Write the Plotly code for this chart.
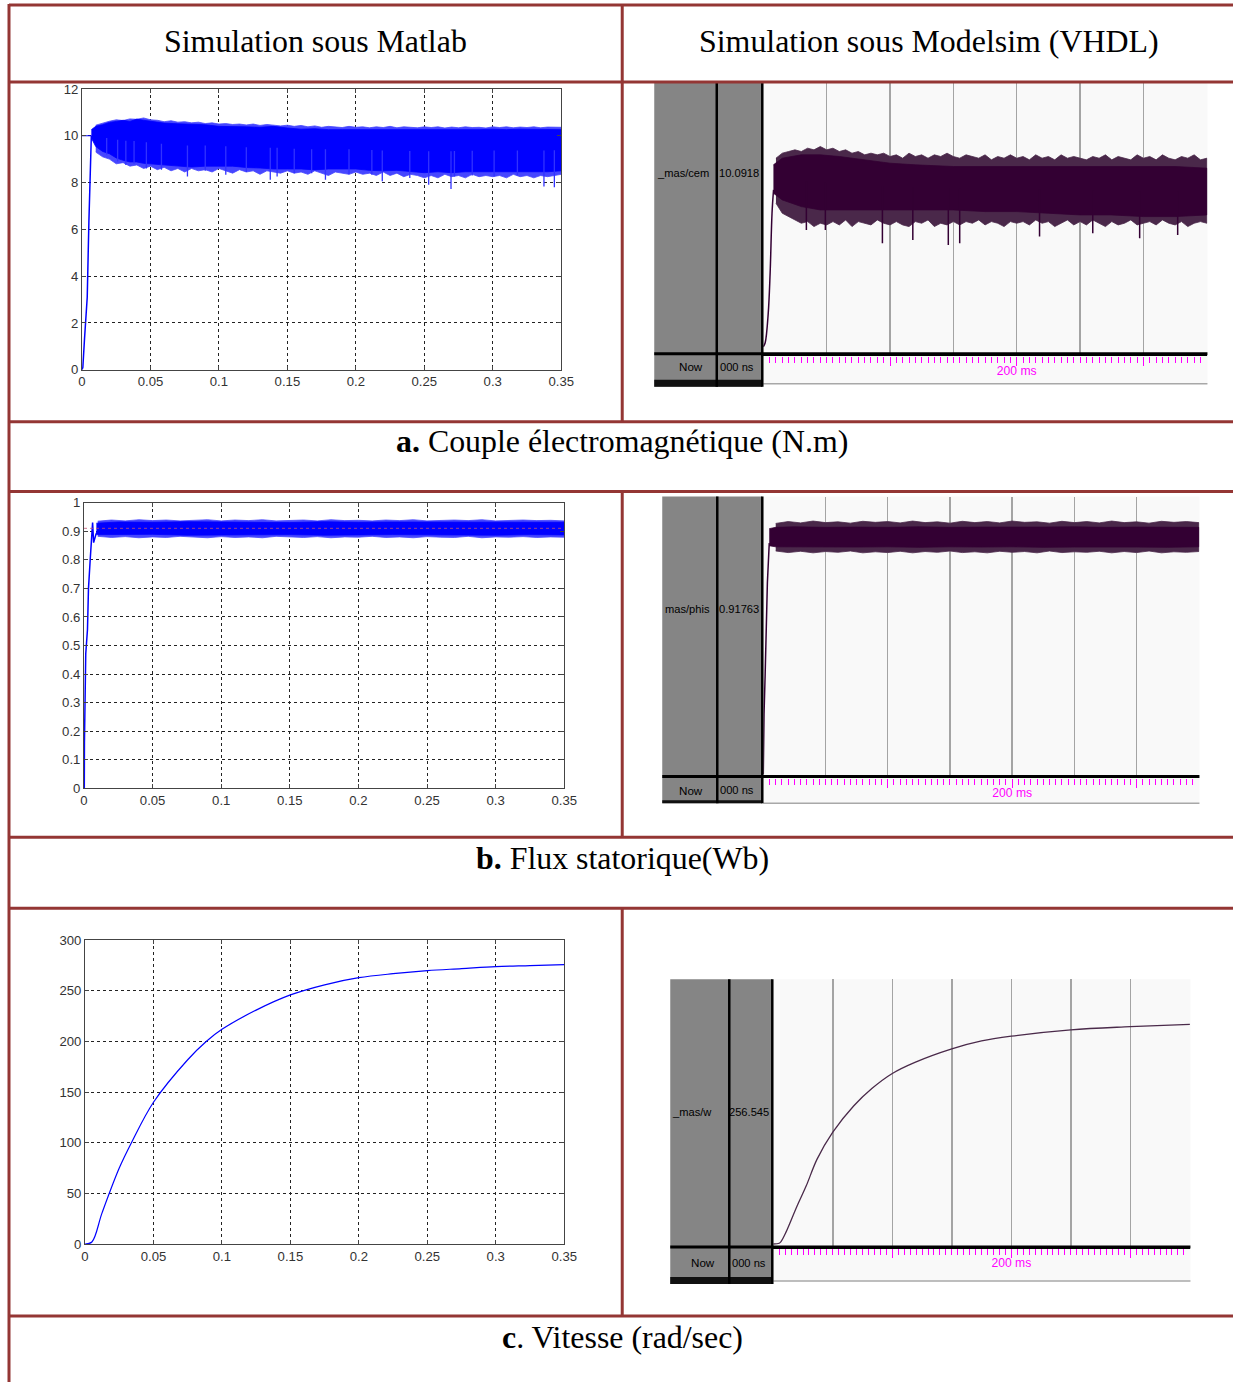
import numpy as np
import plotly.graph_objects as go

W, H = 1233, 1382          # target picture size
FIG_W, FIG_H = 1247, 1390  # figure canvas (slightly larger so the table rules reach the edges)

# ------------------------------------------------------------------ texts
headers = ["Simulation sous Matlab", "Simulation sous Modelsim (VHDL)"]
captions = ["<b>a.</b> Couple électromagnétique (N.m)",
            "<b>b.</b> Flux statorique(Wb)",
            "<b>c</b>. Vitesse (rad/sec)"]
ms_names = ["_mas/cem", "mas/phis", "_mas/w"]
ms_values = ["10.0918", "0.91763", "256.545"]
ms_now = "Now"
ms_now_val = "000 ns"

# ------------------------------------------------------------------ tick labels
ml_t_ticks = [0, 0.05, 0.1, 0.15, 0.2, 0.25, 0.3, 0.35]
ml_t_labels = ["0", "0.05", "0.1", "0.15", "0.2", "0.25", "0.3", "0.35"]
cem_ticks = [0, 2, 4, 6, 8, 10, 12]
phi_ticks = [0, 0.1, 0.2, 0.3, 0.4, 0.5, 0.6, 0.7, 0.8, 0.9, 1]
phi_labels = ["0", "0.1", "0.2", "0.3", "0.4", "0.5", "0.6", "0.7", "0.8", "0.9", "1"]
w_ticks = [0, 50, 100, 150, 200, 250, 300]
ms_grid_dt = 50
ms_major_ticks = [0, 100, 200, 300]
ms_major_labels = ["", "", "200 ms", ""]

# ------------------------------------------------------------------ Matlab (a) couple
cem_rise_t = [0, 0.0006, 0.0018, 0.0038, 0.0050, 0.0058, 0.0068]
cem_rise = [0, 0.1, 1.3, 3.1, 6.3, 8.3, 10.0]
cem_ref_t = [0, 0.0068]
cem_ref = [10, 10]
# solid core of the ripple band
cem_env_t = [0.0068, 0.01, 0.015, 0.02, 0.025, 0.03, 0.035, 0.04, 0.045, 0.05,
             0.06, 0.07, 0.08, 0.09, 0.10, 0.11, 0.12, 0.13, 0.14, 0.15,
             0.16, 0.17, 0.18, 0.19, 0.20, 0.21, 0.22, 0.23, 0.24, 0.25,
             0.26, 0.27, 0.28, 0.29, 0.30, 0.31, 0.32, 0.33, 0.34, 0.35]
cem_upper = [10.26, 10.40, 10.47, 10.57, 10.61, 10.66, 10.61, 10.71, 10.66, 10.61,
             10.54, 10.51, 10.50, 10.47, 10.40, 10.40, 10.38, 10.36, 10.40, 10.33,
             10.28, 10.30, 10.26, 10.26, 10.26, 10.26, 10.23, 10.26, 10.23, 10.26,
             10.23, 10.26, 10.26, 10.26, 10.28, 10.26, 10.28, 10.28, 10.28, 10.26]
cem_lower = [9.90, 9.54, 9.33, 9.23, 9.05, 8.95, 8.88, 8.88, 8.82, 8.78,
             8.75, 8.70, 8.66, 8.70, 8.70, 8.70, 8.64, 8.62, 8.58, 8.58,
             8.58, 8.54, 8.58, 8.58, 8.58, 8.52, 8.50, 8.52, 8.46, 8.42,
             8.46, 8.42, 8.46, 8.46, 8.46, 8.44, 8.46, 8.46, 8.46, 8.50]
# ragged fringe of the ripple band
cem_fr_t = [0.010, 0.015, 0.020, 0.025, 0.030, 0.035, 0.040, 0.045, 0.050,
            0.055, 0.060, 0.065, 0.070, 0.075, 0.080, 0.085, 0.090, 0.095, 0.100,
            0.105, 0.110, 0.115, 0.120, 0.125, 0.130, 0.135, 0.140, 0.145, 0.150,
            0.155, 0.160, 0.165, 0.170, 0.175, 0.180, 0.185, 0.190, 0.195, 0.200,
            0.205, 0.210, 0.215, 0.220, 0.225, 0.230, 0.235, 0.240, 0.245, 0.250,
            0.255, 0.260, 0.265, 0.270, 0.275, 0.280, 0.285, 0.290, 0.295, 0.300,
            0.305, 0.310, 0.315, 0.320, 0.325, 0.330, 0.335, 0.340, 0.345, 0.350]
cem_fr_up = [10.45, 10.55, 10.62, 10.68, 10.65, 10.72, 10.70, 10.76, 10.68,
             10.66, 10.60, 10.64, 10.58, 10.60, 10.55, 10.58, 10.52, 10.55, 10.50,
             10.52, 10.48, 10.50, 10.46, 10.50, 10.44, 10.48, 10.45, 10.42, 10.45,
             10.40, 10.44, 10.38, 10.42, 10.36, 10.40, 10.38, 10.35, 10.40, 10.36,
             10.38, 10.34, 10.38, 10.35, 10.40, 10.34, 10.38, 10.36, 10.34, 10.38,
             10.35, 10.38, 10.33, 10.37, 10.34, 10.38, 10.35, 10.36, 10.33, 10.38,
             10.35, 10.38, 10.34, 10.37, 10.35, 10.38, 10.34, 10.37, 10.35, 10.36]
cem_fr_lo = [9.30, 9.10, 9.00, 8.80, 8.85, 8.70, 8.75, 8.60, 8.70,
             8.55, 8.65, 8.50, 8.60, 8.45, 8.60, 8.50, 8.55, 8.45, 8.60,
             8.50, 8.40, 8.55, 8.45, 8.50, 8.35, 8.50, 8.45, 8.40, 8.50,
             8.40, 8.45, 8.35, 8.50, 8.40, 8.30, 8.45, 8.40, 8.35, 8.45,
             8.35, 8.40, 8.30, 8.45, 8.30, 8.40, 8.25, 8.35, 8.30, 8.20,
             8.30, 8.20, 8.35, 8.25, 8.30, 8.20, 8.35, 8.25, 8.30, 8.25,
             8.30, 8.20, 8.35, 8.25, 8.30, 8.20, 8.30, 8.25, 8.30, 8.35]
cem_dn_t = [0.018, 0.026, 0.032, 0.038, 0.047, 0.058, 0.077, 0.090, 0.105, 0.120,
            0.1375, 0.1425, 0.155, 0.1677, 0.1778, 0.195, 0.2117, 0.2193, 0.2394,
            0.2532, 0.2695, 0.272, 0.285, 0.301, 0.318, 0.3374, 0.345]
cem_dn = [9.2, 8.9, 8.75, 8.8, 8.6, 8.55, 8.26, 8.5, 8.33, 8.45,
          8.12, 8.26, 8.4, 8.4, 8.12, 8.35, 8.33, 8.05, 8.19,
          7.9, 7.72, 8.26, 8.3, 8.26, 8.3, 7.83, 7.8]

# ------------------------------------------------------------------ Matlab (b) flux
phi_rise_t = [0, 0.0002, 0.0003, 0.0006, 0.00125, 0.0025, 0.00325, 0.0045, 0.0055,
              0.00625, 0.007, 0.00875, 0.010]
phi_rise = [0, 0.0, 0.16, 0.30, 0.47, 0.555, 0.70, 0.80, 0.86, 0.93, 0.86, 0.89, 0.90]
phi_env_t = [0.009, 0.025, 0.05, 0.075, 0.1, 0.125, 0.15, 0.175, 0.2, 0.225,
             0.25, 0.275, 0.3, 0.325, 0.35]
phi_upper = [0.928, 0.932, 0.931, 0.933, 0.932, 0.931, 0.930, 0.933, 0.931, 0.932,
             0.932, 0.931, 0.933, 0.932, 0.931]
phi_lower = [0.888, 0.887, 0.889, 0.886, 0.888, 0.887, 0.888, 0.886, 0.887, 0.888,
             0.886, 0.887, 0.886, 0.888, 0.887]
phi_fr_t = [0.01, 0.02, 0.03, 0.04, 0.05, 0.06, 0.07, 0.08, 0.09, 0.10,
            0.11, 0.12, 0.13, 0.14, 0.15, 0.16, 0.17, 0.18, 0.19, 0.20,
            0.21, 0.22, 0.23, 0.24, 0.25, 0.26, 0.27, 0.28, 0.29, 0.30,
            0.31, 0.32, 0.33, 0.34, 0.35]
phi_fr_up = [0.935, 0.939, 0.936, 0.940, 0.937, 0.939, 0.936, 0.938, 0.940, 0.936,
             0.939, 0.937, 0.940, 0.936, 0.938, 0.939, 0.936, 0.940, 0.937, 0.938,
             0.936, 0.939, 0.937, 0.940, 0.936, 0.938, 0.939, 0.937, 0.940, 0.936,
             0.938, 0.939, 0.937, 0.938, 0.936]
phi_fr_lo = [0.882, 0.878, 0.881, 0.877, 0.880, 0.878, 0.882, 0.879, 0.877, 0.881,
             0.878, 0.880, 0.877, 0.882, 0.879, 0.878, 0.881, 0.877, 0.880, 0.879,
             0.882, 0.878, 0.880, 0.877, 0.881, 0.879, 0.878, 0.882, 0.877, 0.880,
             0.879, 0.881, 0.878, 0.880, 0.879]
phi_ref_t = [0, 0.35]
phi_ref = [0.91, 0.91]

# ------------------------------------------------------------------ Matlab (c) vitesse
vit_t = [0, 0.005, 0.0125, 0.025, 0.0339, 0.05, 0.075, 0.0885, 0.1, 0.125,
         0.15, 0.175, 0.2, 0.225, 0.25, 0.275, 0.3, 0.325, 0.35]
vit = [0, 2, 31, 75, 100, 140, 182, 200, 212, 231,
       246, 256, 263, 267, 270, 272, 274, 275, 276]

# ------------------------------------------------------------------ Modelsim (a) cem  (t in ms)
ms_cem_rise_t = [0, 1.5, 3.9, 5.4, 6.9, 8.1]
ms_cem_rise = [0, 0.24, 2.0, 4.4, 8.0, 9.4]
ms_cem_env_t = [8, 15, 30, 45, 60, 80, 100, 120, 150, 175, 200, 225, 250, 275, 300, 325, 350]
ms_cem_upper = [10.9, 11.3, 11.5, 11.5, 11.4, 11.2, 11.0, 10.9, 10.8, 10.8, 10.8, 10.8, 10.8, 10.8, 10.8, 10.8, 10.7]
ms_cem_lower = [9.2, 8.8, 8.4, 8.2, 8.2, 8.2, 8.2, 8.2, 8.2, 8.1, 8.1, 8.0, 7.9, 7.9, 7.8, 7.8, 7.9]
ms_cem_fr_t = [10, 15, 20, 25, 30, 35, 40, 45, 50,
               55, 60, 65, 70, 75, 80, 85, 90, 95, 100,
               105, 110, 115, 120, 125, 130, 135, 140, 145, 150,
               155, 160, 165, 170, 175, 180, 185, 190, 195, 200,
               205, 210, 215, 220, 225, 230, 235, 240, 245, 250,
               255, 260, 265, 270, 275, 280, 285, 290, 295, 300,
               305, 310, 315, 320, 325, 330, 335, 340, 345, 350]
ms_cem_fr_up = [11.3, 11.6, 11.7, 11.8, 11.7, 11.9, 11.8, 12.0, 11.8,
                11.9, 11.7, 11.8, 11.6, 11.7, 11.5, 11.6, 11.5, 11.6, 11.4,
                11.5, 11.3, 11.6, 11.4, 11.5, 11.3, 11.5, 11.4, 11.6, 11.4,
                11.3, 11.5, 11.4, 11.3, 11.5, 11.2, 11.4, 11.3, 11.5, 11.3,
                11.4, 11.2, 11.5, 11.3, 11.4, 11.2, 11.5, 11.3, 11.4, 11.3,
                11.2, 11.4, 11.3, 11.5, 11.2, 11.4, 11.3, 11.2, 11.5, 11.3,
                11.4, 11.2, 11.5, 11.3, 11.2, 11.4, 11.3, 11.5, 11.2, 11.3]
ms_cem_fr_lo = [8.6, 8.0, 7.8, 7.6, 7.4, 7.5, 7.2, 7.4, 7.3,
                7.5, 7.3, 7.6, 7.2, 7.5, 7.4, 7.3, 7.6, 7.4, 7.3,
                7.5, 7.3, 7.2, 7.5, 7.4, 7.6, 7.2, 7.4, 7.3, 7.5,
                7.3, 7.5, 7.4, 7.6, 7.3, 7.5, 7.4, 7.2, 7.5, 7.4,
                7.5, 7.3, 7.6, 7.4, 7.5, 7.2, 7.4, 7.6, 7.3, 7.5,
                7.3, 7.6, 7.4, 7.2, 7.5, 7.3, 7.4, 7.6, 7.3, 7.4,
                7.5, 7.3, 7.6, 7.4, 7.3, 7.5, 7.2, 7.4, 7.5, 7.4]
ms_cem_dn_t = [34, 49, 94, 118, 146, 155, 218, 260, 297, 327]
ms_cem_dn = [7.0, 7.0, 6.2, 6.4, 6.1, 6.2, 6.6, 6.8, 6.5, 6.7]

# ------------------------------------------------------------------ Modelsim (b) phis
ms_phi_rise_t = [0, 0.2, 0.6, 1.5, 2.4, 3.3, 4.8]
ms_phi_rise = [0, 0.09, 0.23, 0.38, 0.54, 0.73, 0.88]
ms_phi_env_t = [4.8, 10, 25, 50, 75, 100, 125, 150, 175, 200, 225, 250, 275, 300, 325, 350]
ms_phi_upper = [0.935, 0.940, 0.942, 0.940, 0.941, 0.940, 0.942, 0.940, 0.941, 0.940, 0.941, 0.942, 0.940, 0.941, 0.940, 0.940]
ms_phi_lower = [0.870, 0.866, 0.865, 0.866, 0.865, 0.866, 0.864, 0.866, 0.865, 0.866, 0.864, 0.865, 0.866, 0.865, 0.864, 0.866]
ms_phi_fr_t = [10, 20, 30, 40, 50, 60, 70, 80, 90, 100,
               110, 120, 130, 140, 150, 160, 170, 180, 190, 200,
               210, 220, 230, 240, 250, 260, 270, 280, 290, 300,
               310, 320, 330, 340, 350]
ms_phi_fr_up = [0.955, 0.962, 0.957, 0.964, 0.958, 0.961, 0.956, 0.963, 0.959, 0.962,
                0.957, 0.964, 0.958, 0.961, 0.956, 0.963, 0.958, 0.962, 0.957, 0.964,
                0.959, 0.961, 0.956, 0.963, 0.958, 0.962, 0.957, 0.964, 0.958, 0.961,
                0.956, 0.963, 0.959, 0.962, 0.958]
ms_phi_fr_lo = [0.850, 0.844, 0.849, 0.843, 0.848, 0.845, 0.850, 0.843, 0.847, 0.844,
                0.849, 0.843, 0.848, 0.845, 0.850, 0.844, 0.847, 0.843, 0.849, 0.845,
                0.848, 0.843, 0.850, 0.844, 0.847, 0.845, 0.849, 0.843, 0.848, 0.844,
                0.850, 0.843, 0.847, 0.845, 0.848]

# ------------------------------------------------------------------ Modelsim (c) w
ms_w_t = [0, 5, 6.5, 10.7, 20, 27.6, 36.8, 50, 67.5, 82.8, 100, 119, 150, 175, 200, 250, 300, 350]
ms_w = [0, 1, 3, 15, 48, 73, 107, 141, 174, 196, 215, 229, 246, 256, 262, 270, 274, 277]

# ------------------------------------------------------------------ styles
RED = "#943634"
ML_BLUE = "rgb(0,0,255)"
ML_FRINGE = "rgb(70,70,255)"
MS_DARK = "#330033"
MS_FRINGE = "#4a284a"
MAGENTA = "#ff00ff"
PANE = "#858585"
WAVE_BG = "#f9f9f9"
SERIF = "Liberation Serif, Times New Roman, serif"
SANS = "Liberation Sans, Arial, sans-serif"

# placement: target pixel positions -> figure pixels (small correction for the capture frame)
OX, OY, SX, SY = 4.0, 7.0, 0.986, 0.990
FS = 1.0 / ((SX + SY) / 2.0)


def fx(x):
    return (x - OX) / SX


def fy(y):
    return (y - OY) / SY


def px(x):
    return fx(x) / FIG_W


def py(y):
    return 1 - fy(y) / FIG_H


def xd(a, b):
    return [px(a), px(b)]


def yd(top, bot):
    return [py(bot), py(top)]


fig = go.Figure()


def line_tr(x, y, color, width, ax, dash=None, shape="linear"):
    fig.add_trace(go.Scatter(x=x, y=y, mode="lines", line=dict(color=color, width=width, dash=dash, shape=shape),
                             xaxis="x" + ax, yaxis="y" + ax, hoverinfo="skip", showlegend=False))


def band_tr(t, up, lo, color, ax, lw=0.8):
    fig.add_trace(go.Scatter(x=list(t) + list(t)[::-1], y=list(up) + list(lo)[::-1], mode="lines",
                             fill="toself", fillcolor=color, line=dict(color=color, width=lw),
                             xaxis="x" + ax, yaxis="y" + ax, hoverinfo="skip", showlegend=False))


def spike_tr(t, v, env_t, up, lo, color, width, ax):
    mid = np.interp(t, env_t, (np.array(up) + np.array(lo)) / 2.0)
    xs, ys = [], []
    for ti, bi, vi in zip(t, mid, v):
        xs += [ti, ti, None]
        ys += [bi, vi, None]
    line_tr(xs, ys, color, width, ax)


# ---- Matlab traces
line_tr(cem_ref_t, cem_ref, ML_BLUE, 1.2, "")
line_tr(cem_rise_t, cem_rise, ML_BLUE, 1.5, "")
band_tr(cem_fr_t, cem_fr_up, cem_fr_lo, ML_FRINGE, "")
band_tr(cem_env_t, cem_upper, cem_lower, ML_BLUE, "")
spike_tr(cem_dn_t, cem_dn, cem_env_t, cem_upper, cem_lower, "rgb(50,50,255)", 1.3, "")

line_tr(phi_rise_t, phi_rise, ML_BLUE, 1.5, "2")
band_tr(phi_fr_t, phi_fr_up, phi_fr_lo, ML_FRINGE, "2")
band_tr(phi_env_t, phi_upper, phi_lower, ML_BLUE, "2")
line_tr(phi_ref_t, phi_ref, "#c05070", 0.8, "2", dash="dot")

line_tr(vit_t, vit, ML_BLUE, 1.2, "3", shape="spline")

# ---- Modelsim traces
line_tr(ms_cem_rise_t, ms_cem_rise, MS_DARK, 1.5, "4", shape="spline")
band_tr(ms_cem_fr_t, ms_cem_fr_up, ms_cem_fr_lo, MS_FRINGE, "4")
band_tr(ms_cem_env_t, ms_cem_upper, ms_cem_lower, MS_DARK, "4")
spike_tr(ms_cem_dn_t, ms_cem_dn, ms_cem_env_t, ms_cem_upper, ms_cem_lower, MS_DARK, 1.5, "4")

line_tr(ms_phi_rise_t, ms_phi_rise, MS_DARK, 1.5, "5")
band_tr(ms_phi_fr_t, ms_phi_fr_up, ms_phi_fr_lo, MS_FRINGE, "5")
band_tr(ms_phi_env_t, ms_phi_upper, ms_phi_lower, MS_DARK, "5")

line_tr(ms_w_t, ms_w, "#4a2a4a", 1.3, "6", shape="spline")

# time-ruler strips under each Modelsim wave (empty traces so the axes get drawn)
for n in ["7", "8", "9"]:
    fig.add_trace(go.Scatter(x=ms_major_ticks, y=[0.5] * len(ms_major_ticks), mode="none",
                             xaxis="x" + n, yaxis="y" + n, hoverinfo="skip", showlegend=False))

# ------------------------------------------------------------------ axes
tickfont_ml = dict(family=SANS, size=13 * FS, color="#333")


def ml_x(dom, anchor):
    return dict(domain=dom, anchor=anchor, range=[0, 0.35], tickmode="array", tickvals=ml_t_ticks,
                ticktext=ml_t_labels, showgrid=True, gridcolor="#222", griddash="dot", gridwidth=1,
                showline=True, linecolor="#444", linewidth=1, mirror="ticks", ticks="inside",
                ticklen=4, tickcolor="#444", tickfont=tickfont_ml, zeroline=False, fixedrange=True)


def ml_y(dom, anchor, rng, tv, tt=None):
    d = dict(domain=dom, anchor=anchor, range=rng, tickmode="array", tickvals=tv,
             showgrid=True, gridcolor="#222", griddash="dot", gridwidth=1,
             showline=True, linecolor="#444", linewidth=1, mirror="ticks", ticks="inside",
             ticklen=4, tickcolor="#444", tickfont=tickfont_ml, zeroline=False, fixedrange=True)
    if tt is not None:
        d["ticktext"] = tt
    return d


def ms_x(dom, anchor):
    return dict(domain=dom, anchor=anchor, range=[0, 350.5], tickmode="linear", tick0=0, dtick=ms_grid_dt,
                showticklabels=False, ticks="", showgrid=True, gridcolor="#a4a4a4", gridwidth=1.5,
                showline=True, linecolor="black", linewidth=3, zeroline=False, fixedrange=True)


def ms_y(dom, anchor, rng):
    return dict(domain=dom, anchor=anchor, range=rng, visible=False, fixedrange=True)


def strip_x(dom, anchor):
    return dict(domain=dom, anchor=anchor, range=[0, 350.5], side="top", tickmode="array",
                tickvals=ms_major_ticks, ticktext=ms_major_labels, ticks="inside", ticklen=9,
                tickwidth=1, tickcolor=MAGENTA, ticklabelposition="inside",
                tickfont=dict(family=SANS, size=12 * FS, color=MAGENTA),
                minor=dict(ticks="inside", ticklen=6, tickwidth=1, tickcolor=MAGENTA, tick0=0, dtick=5,
                           showgrid=False),
                showgrid=False, showline=False, zeroline=False, fixedrange=True)


# pixel boxes (target image pixels)
ML = [(82, 561, 89, 370), (84, 564, 503, 789), (85, 564, 941, 1245)]
MSW = [(763, 1207, 83, 353), (763, 1199, 497, 776), (773, 1190, 980, 1247)]
STRIP = [(763, 1207, 357, 383), (763, 1199, 780, 803), (773, 1190, 1250, 1281)]

layout_axes = {}
layout_axes["xaxis"] = ml_x(xd(ML[0][0], ML[0][1]), "y")
layout_axes["yaxis"] = ml_y(yd(ML[0][2], ML[0][3]), "x", [0, 12], cem_ticks)
layout_axes["xaxis2"] = ml_x(xd(ML[1][0], ML[1][1]), "y2")
layout_axes["yaxis2"] = ml_y(yd(ML[1][2], ML[1][3]), "x2", [0, 1], phi_ticks, phi_labels)
layout_axes["xaxis3"] = ml_x(xd(ML[2][0], ML[2][1]), "y3")
layout_axes["yaxis3"] = ml_y(yd(ML[2][2], ML[2][3]), "x3", [0, 300], w_ticks)

ms_ranges = [[-0.36, 15.81], [-0.004, 1.057], [-2.5, 333.8]]
for i in range(3):
    n = str(4 + i)
    b = MSW[i]
    layout_axes["xaxis" + n] = ms_x(xd(b[0], b[1]), "y" + n)
    layout_axes["yaxis" + n] = ms_y(yd(b[2], b[3]), "x" + n, ms_ranges[i])
    m = str(7 + i)
    s = STRIP[i]
    layout_axes["xaxis" + m] = strip_x(xd(s[0], s[1]), "y" + m)
    layout_axes["yaxis" + m] = dict(domain=yd(s[2], s[3]), anchor="x" + m, range=[0, 1], visible=False,
                                    fixedrange=True)

# ------------------------------------------------------------------ shapes
shapes = []


def rect(x0, y0, x1, y1, fill, layer="above"):
    shapes.append(dict(type="rect", xref="paper", yref="paper", x0=px(x0), x1=px(x1), y0=py(y0), y1=py(y1),
                       fillcolor=fill, line=dict(width=0), layer=layer))


def seg_p(x0, y0, x1, y1, color, width, layer="above"):
    shapes.append(dict(type="line", xref="paper", yref="paper", x0=x0, x1=x1, y0=y0, y1=y1,
                       line=dict(color=color, width=width), layer=layer))


def seg(x0, y0, x1, y1, color, width, layer="above"):
    seg_p(px(x0), py(y0), px(x1), py(y1), color, width, layer)


# Modelsim panes: left, divider, right, top, rowline, bottom, bar_top
PANES = [
    (654, 716.5, 762, 83, 354, 387, 380),
    (662, 717, 762, 497, 777, 804, 801),
    (670, 729, 772, 980, 1248, 1285, 1278),
]
for i in range(3):
    l, d, r, t, rl, b, bt = PANES[i]
    w = MSW[i]
    s = STRIP[i]
    rect(w[0], w[2], w[1], w[3], WAVE_BG, layer="below")
    rect(w[0], rl, w[1], s[3] + 1, WAVE_BG, layer="below")
    seg(w[0], s[3] + 1, w[1], s[3] + 1, "#a8a8a8", 1.5)
    rect(l, t, r, b, PANE)
    rect(l, bt, r, b, "#111111")
    seg(l, rl, w[1], rl, "black", 3)
    seg(d, t, d, b, "black", 2.5)
    seg(r, t, r, b, "black", 2.5)

# Table lines (run to the right / bottom edge of the picture)
for yv in [5, 82, 422, 492, 838, 909, 1317]:
    seg(9, yv, W + 2, yv, RED, 3)
seg(9, 4, 9, H + 2, RED, 3)
for (y0, y1) in [(4, 422), (492, 838), (909, 1317)]:
    seg(622, y0, 622, y1, RED, 3)

# ------------------------------------------------------------------ annotations
ann = []


def text(x, y, s, size, family, color="black", xanchor="center"):
    ann.append(dict(x=px(x), y=py(y), xref="paper", yref="paper", text=s, showarrow=False,
                    font=dict(family=family, size=size * FS, color=color), xanchor=xanchor, yanchor="middle"))


text(315, 42, headers[0], 31.5, SERIF)
text(929, 42, headers[1], 31.5, SERIF)
text(622, 442, captions[0], 31.5, SERIF)
text(622, 859, captions[1], 31.5, SERIF)
text(622, 1339, captions[2], 31.5, SERIF)

NAME_POS = [(655, 173, 761, 173), (663, 609, 761, 609), (670, 1113, 771, 1113)]
NOW_Y = [367, 791, 1264]
for i in range(3):
    l, d, r, t, rl, b, bt = PANES[i]
    nx, ny, vx, vy = NAME_POS[i]
    text(nx, ny, ms_names[i], 11, SANS, xanchor="left")
    text(vx, vy, ms_values[i], 11, SANS, xanchor="right")
    text(d - 12, NOW_Y[i], ms_now, 11.5, SANS, xanchor="right")
    text(d + 1, NOW_Y[i], ms_now_val, 11, SANS, xanchor="left")

fig.update_layout(width=FIG_W, height=FIG_H, margin=dict(l=0, r=0, t=0, b=0), paper_bgcolor="white",
                  plot_bgcolor="rgba(0,0,0,0)", showlegend=False, shapes=shapes, annotations=ann,
                  hovermode=False, **layout_axes)

pin_page = ("document.documentElement.style.margin='0';document.documentElement.style.overflow='hidden';"
            "document.body.style.margin='0';document.body.style.overflow='hidden';"
            "var gd=document.getElementsByClassName('plotly-graph-div')[0];"
            "gd.style.position='fixed';gd.style.left='0px';gd.style.top='0px';")
fig.write_html("out.html", config={"displayModeBar": False, "staticPlot": True}, post_script=pin_page)
